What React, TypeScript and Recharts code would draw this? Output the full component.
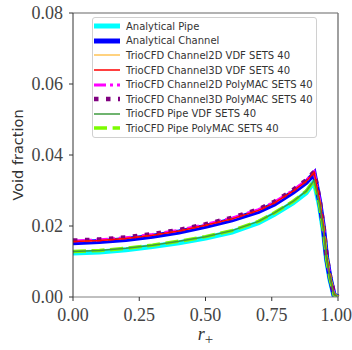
import React from 'react';
import { LineChart, Line, XAxis, YAxis, Legend, ReferenceLine } from 'recharts';

// radial position r+ (shared grid)
const rPlus = [0, 0.1, 0.2, 0.3, 0.4, 0.5, 0.6, 0.7, 0.76, 0.83, 0.88, 0.91, 0.93, 0.945, 0.957, 0.97, 0.985, 1.0];

const analyticalPipe = [0.0124, 0.0127, 0.0133, 0.0142, 0.0153, 0.0166, 0.0183, 0.0209, 0.0233, 0.0265, 0.0294, 0.0325, 0.0258, 0.0184, 0.0104, 0.0048, 0.0003, 0];
const analyticalChannel = [0.0153, 0.0156, 0.0162, 0.0171, 0.0183, 0.0199, 0.0217, 0.0241, 0.0262, 0.0295, 0.0323, 0.0348, 0.0271, 0.0196, 0.0111, 0.0054, 0.0006, 0];
const channel2dVdf = [0.0156, 0.0159, 0.0165, 0.0174, 0.0186, 0.0202, 0.022, 0.0244, 0.0265, 0.0298, 0.0326, 0.0351, 0.0274, 0.0199, 0.0114, 0.0057, 0.0008, 0];
const channel3dVdf = [0.0156, 0.0159, 0.0165, 0.0174, 0.0186, 0.0202, 0.022, 0.0244, 0.0265, 0.0298, 0.0326, 0.0351, 0.0274, 0.0199, 0.0114, 0.0057, 0.0008, 0];
const channel2dPoly = [0.0158, 0.0161, 0.0167, 0.0176, 0.0188, 0.0204, 0.0222, 0.0246, 0.0267, 0.03, 0.0328, 0.0352, 0.0275, 0.02, 0.0115, 0.0058, 0.0009, 0];
const channel3dPoly = [0.0159, 0.0162, 0.0168, 0.0177, 0.0189, 0.0205, 0.0223, 0.0247, 0.0268, 0.0301, 0.0329, 0.0353, 0.0276, 0.0201, 0.0116, 0.0058, 0.0009, 0];
const pipeVdf = [0.0128, 0.0131, 0.0137, 0.0146, 0.0157, 0.017, 0.0187, 0.0213, 0.0237, 0.0269, 0.0298, 0.0329, 0.0262, 0.0188, 0.0108, 0.0052, 0.0006, 0];
const pipePoly = [0.0128, 0.0131, 0.0137, 0.0146, 0.0157, 0.017, 0.0187, 0.0213, 0.0237, 0.0269, 0.0298, 0.0329, 0.0262, 0.0188, 0.0108, 0.0052, 0.0006, 0];

const yTicks = [0, 0.02, 0.04, 0.06, 0.08];
const xTicks = [0, 0.25, 0.5, 0.75, 1.0];

const data = rPlus.map((r, i) => ({
  r,
  analyticalPipe: analyticalPipe[i],
  analyticalChannel: analyticalChannel[i],
  channel2dVdf: channel2dVdf[i],
  channel3dVdf: channel3dVdf[i],
  channel2dPoly: channel2dPoly[i],
  channel3dPoly: channel3dPoly[i],
  pipeVdf: pipeVdf[i],
  pipePoly: pipePoly[i],
}));

// legend order
const series = [
  { key: 'analyticalPipe', name: 'Analytical Pipe', color: '#00ffff', width: 5 },
  { key: 'analyticalChannel', name: 'Analytical Channel', color: '#0000ff', width: 5 },
  { key: 'channel2dVdf', name: 'TrioCFD Channel2D VDF SETS 40', color: '#ffa500', width: 1 },
  { key: 'channel3dVdf', name: 'TrioCFD Channel3D VDF SETS 40', color: '#ff0000', width: 1.5 },
  { key: 'channel2dPoly', name: 'TrioCFD Channel2D PolyMAC SETS 40', color: '#ff00ff', width: 3, dash: '12 4 3 4' },
  { key: 'channel3dPoly', name: 'TrioCFD Channel3D PolyMAC SETS 40', color: '#800080', width: 4.5, dash: '4.5 7.5' },
  { key: 'pipeVdf', name: 'TrioCFD Pipe VDF SETS 40', color: '#3f9b3f', width: 1.5 },
  { key: 'pipePoly', name: 'TrioCFD Pipe PolyMAC SETS 40', color: '#7cfc00', width: 3.5, dash: '13 5.6' },
];

// drawing order: thick analytical first, thin VDF lines on top
const drawOrder = ['analyticalPipe', 'analyticalChannel', 'channel2dPoly', 'channel3dPoly', 'pipePoly', 'channel2dVdf', 'channel3dVdf', 'pipeVdf'];

const serif = '"Liberation Serif", serif';
const sans = '"DejaVu Sans", sans-serif';

function LegendBox() {
  return (
    <div style={{
      border: '1px solid #d0d0d0', borderRadius: 3, background: 'rgba(255,255,255,0.8)',
      width: 223, height: 118, paddingTop: 1, boxSizing: 'content-box',
      fontFamily: sans, fontSize: 10, color: '#333',
    }}>
      {series.map((s) => (
        <div key={s.key} style={{ display: 'flex', alignItems: 'center', height: 14.6, whiteSpace: 'nowrap' }}>
          <svg width={26} height={14} style={{ marginLeft: 1, marginRight: 6, flex: 'none' }}>
            <line x1={0} y1={7} x2={26} y2={7} stroke={s.color} strokeWidth={s.width} strokeDasharray={s.dash} />
          </svg>
          <span>{s.name}</span>
        </div>
      ))}
    </div>
  );
}

function XLabel(props: any) {
  const vb = props.viewBox || {};
  const cx = vb.x + vb.width / 2;
  return (
    <text x={cx} y={vb.y + 43} textAnchor="middle" fontFamily={serif} fontSize={18} fill="#333">
      <tspan fontStyle="italic">r</tspan>
      <tspan fontSize={15} dy={4}>+</tspan>
    </text>
  );
}

function YLabel(props: any) {
  const vb = props.viewBox || {};
  const cy = vb.y + vb.height / 2;
  return (
    <text x={23} y={cy} transform={`rotate(-90, 23, ${cy})`} textAnchor="middle" fontFamily={sans} fontSize={14.5} fill="#333">
      Void fraction
    </text>
  );
}

export default function App() {
  return (
    <div style={{ position: 'absolute', left: 0, top: 0, background: '#fff' }}>
      <LineChart width={352} height={350} data={data} margin={{ top: 13, right: 14, left: 0, bottom: 0 }}>
        <XAxis
          dataKey="r" type="number" domain={[0, 1]} ticks={xTicks}
          tickFormatter={(v: number) => v.toFixed(2)}
          height={53} tickSize={4} tickMargin={7}
          stroke="#808080" tickLine={{ stroke: '#333' }}
          tick={{ fontFamily: serif, fontSize: 18, fill: '#444' }}
          label={<XLabel />}
        />
        <YAxis
          type="number" domain={[0, 0.08]} ticks={yTicks}
          tickFormatter={(v: number) => v.toFixed(2)}
          width={73} tickSize={4} tickMargin={6}
          stroke="#333" allowDataOverflow
          tick={{ fontFamily: serif, fontSize: 18, fill: '#444' }}
          label={<YLabel />}
        />
        <ReferenceLine y={0.08} stroke="#999" strokeWidth={1.3} />
        <ReferenceLine x={1} stroke="#777" strokeWidth={1.4} />
        {drawOrder.map((k) => {
          const s = series.find((x) => x.key === k)!;
          return (
            <Line
              key={k} type="linear" dataKey={k} name={s.name}
              stroke={s.color} strokeWidth={s.width} strokeDasharray={s.dash}
              dot={false} activeDot={false} isAnimationActive={false}
            />
          );
        })}
        <Legend
          layout="vertical" align="center" verticalAlign="middle"
          wrapperStyle={{ left: 92, top: 17, width: 'auto' }}
          content={() => <LegendBox />}
        />
      </LineChart>
    </div>
  );
}
